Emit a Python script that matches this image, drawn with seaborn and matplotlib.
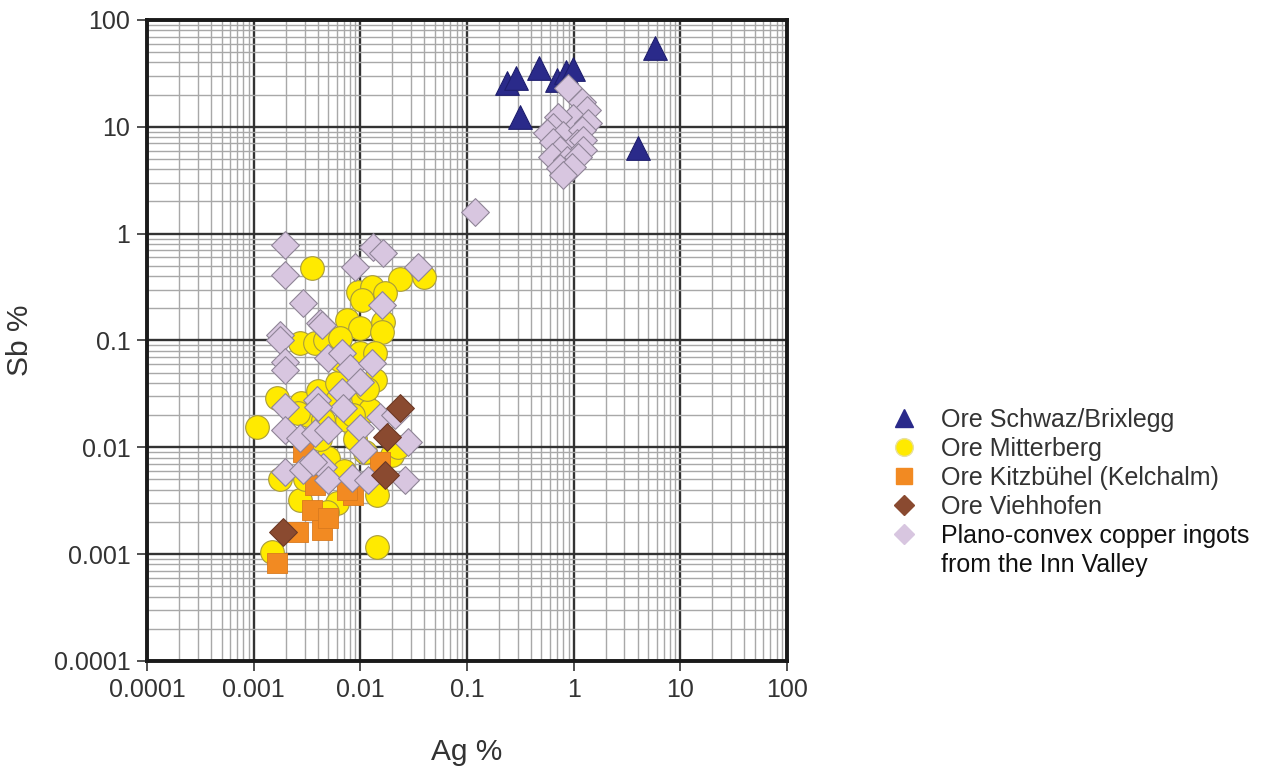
import numpy as np
import pandas as pd
import matplotlib
matplotlib.use('Agg')
import matplotlib.pyplot as plt
from matplotlib.lines import Line2D
import seaborn as sns

# Ag % / Sb % values
schwaz_ag = [0.237, 0.287, 0.472, 0.313, 0.70, 0.845, 0.98, 5.77, 4.0]
schwaz_sb = [25.7, 28.6, 35.5, 12.4, 27.4, 32.6, 34.8, 54.7, 6.3]

mitter_ag = [0.0035, 0.0235, 0.040, 0.0095, 0.0129, 0.017, 0.0104, 0.0075, 0.0099,
             0.0163, 0.0159, 0.00107, 0.0027, 0.00375, 0.0047, 0.0064, 0.0099, 0.0137,
             0.00165, 0.0028, 0.0040, 0.0032, 0.0060, 0.0106, 0.0137, 0.0123, 0.0075,
             0.0045, 0.00148, 0.0143, 0.0026, 0.0143, 0.0060, 0.0027, 0.0049, 0.0198,
             0.0225, 0.0080, 0.0060, 0.0090, 0.0050, 0.0070, 0.0110, 0.0042, 0.0085,
             0.0030, 0.00175, 0.0065, 0.0115]
mitter_sb = [0.48, 0.38, 0.39, 0.284, 0.316, 0.278, 0.239, 0.155, 0.131,
             0.149, 0.12, 0.0155, 0.095, 0.095, 0.101, 0.105, 0.076, 0.076,
             0.029, 0.026, 0.034, 0.020, 0.0277, 0.029, 0.0426, 0.0223, 0.018,
             0.018, 0.00104, 0.00116, 0.021, 0.0036, 0.0030, 0.0032, 0.0025, 0.0085,
             0.010, 0.050, 0.040, 0.012, 0.008, 0.006, 0.009, 0.012, 0.020,
             0.005, 0.005, 0.065, 0.035]

kitz_ag = [0.0029, 0.0035, 0.0044, 0.0050, 0.0026, 0.00165, 0.0085, 0.00375, 0.0153, 0.0075]
kitz_sb = [0.0090, 0.00258, 0.00168, 0.00217, 0.0016, 0.00082, 0.0036, 0.0044, 0.0073, 0.0040]

vieh_ag = [0.0235, 0.0178, 0.017, 0.0019]
vieh_sb = [0.0233, 0.0125, 0.0055, 0.0016]

ingot_ag = [0.00196, 0.00196, 0.0029, 0.0042, 0.0089, 0.0132, 0.0163, 0.0347, 0.0159,
            0.00176, 0.00176, 0.00196, 0.00196, 0.0044, 0.0050, 0.0067, 0.0080, 0.0129,
            0.0099, 0.0067, 0.0039, 0.0069, 0.00196, 0.00196, 0.0027, 0.00375, 0.0050,
            0.0099, 0.0153, 0.0211, 0.0279, 0.0040, 0.00196, 0.0029, 0.0045, 0.0050,
            0.0083, 0.0118, 0.0106, 0.0262, 0.0036,
            0.88, 1.19, 1.33, 0.98, 0.711, 0.64, 1.36, 0.561, 0.793, 1.19, 0.64, 1.07,
            1.22, 0.743, 1.22, 0.625, 0.863, 1.10, 0.743, 0.962, 0.793, 0.119]
ingot_sb = [0.78, 0.41, 0.224, 0.146, 0.49, 0.75, 0.66, 0.49, 0.214,
            0.112, 0.101, 0.063, 0.053, 0.139, 0.068, 0.076, 0.055, 0.061,
            0.041, 0.033, 0.0277, 0.0233, 0.0238, 0.0145, 0.0122, 0.0136, 0.0145,
            0.0151, 0.0192, 0.020, 0.0112, 0.0238, 0.00585, 0.0061, 0.0065, 0.0049,
            0.0052, 0.0049, 0.0094, 0.0049, 0.0073,
            23.1, 17.1, 14.4, 12.1, 12.4, 9.95, 10.9, 8.75, 8.4, 9.3, 7.2, 7.05,
            7.5, 6.06, 6.06, 5.2, 4.9, 5.2, 4.1, 4.2, 3.54, 1.59]

labels = ['Ore Schwaz/Brixlegg', 'Ore Mitterberg', 'Ore Kitzbühel (Kelchalm)',
          'Ore Viehhofen', 'Plano-convex copper ingots']
tick_vals = [0.0001, 0.001, 0.01, 0.1, 1, 10, 100]
tick_labels = ['0.0001', '0.001', '0.01', '0.1', '1', '10', '100']

sns.set_style('white')
plt.rcParams['font.family'] = ['Liberation Sans', 'DejaVu Sans']

fig = plt.figure(figsize=(12.68, 7.71), dpi=100)
ax = fig.add_axes([0.1159, 0.1427, 0.5047, 0.8314])

# marker styles per group
styles = {
    labels[0]: dict(marker='^', s=290, color='#2a2a8a', edgecolor='#1e1e6e', linewidth=0.8),
    labels[1]: dict(marker='o', s=290, color='#ffea00', edgecolor='#a89b3c', linewidth=0.8),
    labels[2]: dict(marker='s', s=215, color='#f28a22', edgecolor='#d97a1e', linewidth=0.6),
    labels[3]: dict(marker='D', s=200, color='#8a4a30', edgecolor='#6e3a26', linewidth=0.8),
    labels[4]: dict(marker='D', s=200, color='#d8c6e0', edgecolor='#8f8597', linewidth=0.8),
}

groups = [
    (labels[0], schwaz_ag, schwaz_sb),
    (labels[1], mitter_ag, mitter_sb),
    (labels[2], kitz_ag, kitz_sb),
    (labels[4], ingot_ag, ingot_sb),
    (labels[3], vieh_ag, vieh_sb),
]
for name, ag, sb in groups:
    df = pd.DataFrame({'Ag': ag, 'Sb': sb})
    sns.scatterplot(data=df, x='Ag', y='Sb', ax=ax, zorder=3, legend=False, **styles[name])

ax.set_xscale('log')
ax.set_yscale('log')
ax.set_xlim(0.0001, 100)
ax.set_ylim(0.0001, 100)
ax.set_xticks(tick_vals, tick_labels)
ax.set_yticks(tick_vals, tick_labels)

ax.grid(which='minor', color='#a8a8a8', linewidth=1.0, zorder=0)
ax.grid(which='major', color='#333333', linewidth=1.7, zorder=1)
ax.set_axisbelow(True)
ax.tick_params(which='minor', length=0)
ax.tick_params(which='major', direction='out', length=7, width=1.2, color='#333333',
               labelsize=18, labelcolor='#333333', pad=5, bottom=True, left=True)
for sp in ax.spines.values():
    sp.set_color('#1a1a1a')
    sp.set_linewidth(2.8)

ax.set_xlabel('Ag %', fontsize=21.5, color='#333333', labelpad=26)
ax.set_ylabel('Sb %', fontsize=21.5, color='#333333', labelpad=14)

# legend outside on the right
handles = []
for name in labels:
    st = styles[name]
    handles.append(Line2D([], [], linestyle='none', marker=st['marker'],
                          markersize=np.sqrt(st['s']) * 0.75, markerfacecolor=st['color'],
                          markeredgecolor=st['color'] if name != labels[1] else '#e8e0a0'))
handles.append(Line2D([], [], linestyle='none', marker=None))
leg_labels = labels + ['from the Inn Valley']
leg = fig.legend(handles, leg_labels, loc='upper left', bbox_to_anchor=(0.683, 0.5),
                 frameon=False, fontsize=18, handletextpad=0.9, labelspacing=0.2,
                 handlelength=1.2)
for i, t in enumerate(leg.get_texts()):
    t.set_color('#333333' if i < 4 else '#111111')

fig.savefig('out.png', dpi=100)
